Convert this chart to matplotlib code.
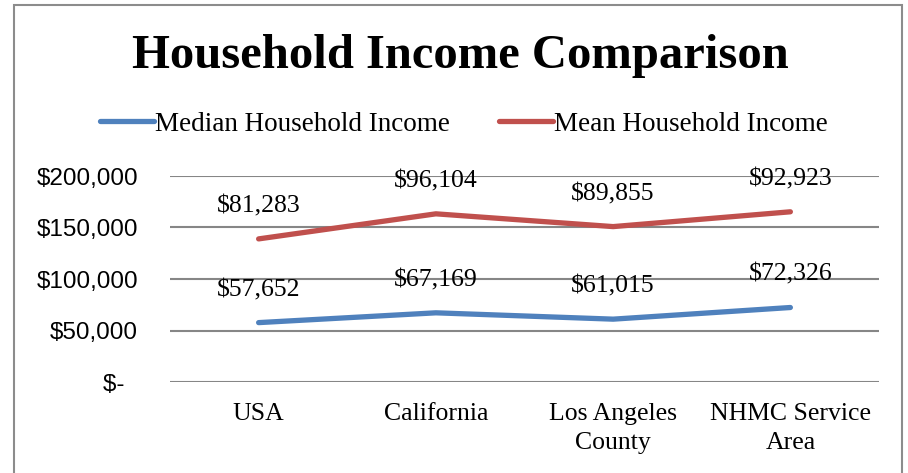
import matplotlib
matplotlib.use("Agg")
import matplotlib.pyplot as plt
from matplotlib.patches import Rectangle
import numpy as np

categories = ["USA", "California", "Los Angeles\nCounty", "NHMC Service\nArea"]
median_income = [57652, 67169, 61015, 72326]
mean_income = [81283, 96104, 89855, 92923]
y_ticks = [0, 50000, 100000, 150000, 200000]
y_tick_labels = ["$-  ", "$50,000", "$100,000", "$150,000", "$200,000"]

serif = ["Liberation Serif", "DejaVu Serif"]
sans = ["Liberation Sans", "DejaVu Sans"]

fig = plt.figure(figsize=(9.08, 4.73), dpi=100)
fig.patch.set_facecolor("white")

# outer chart border
fig.patches.append(Rectangle((14/908, -0.02), (902-14)/908, 1 - 5/473 + 0.02,
                             transform=fig.transFigure, fill=False,
                             edgecolor="#8c8c8c", linewidth=1.5))

ax = fig.add_axes([170/908, 1 - 382/473, (879-170)/908, (382-176)/473])
x = np.arange(len(categories))
stacked_mean = np.array(median_income) + np.array(mean_income)

blue = "#4F81BD"
red = "#C0504D"
l1, = ax.plot(x, median_income, color=blue, lw=3.8, solid_capstyle="round",
              solid_joinstyle="round", label="Median Household Income", zorder=3)
l2, = ax.plot(x, stacked_mean, color=red, lw=3.8, solid_capstyle="round",
              solid_joinstyle="round", label="Mean Household Income", zorder=3)

for xi, yv, v in zip(x, median_income, median_income):
    ax.annotate(f"${v:,}", (xi, yv), xytext=(0, 23.5), textcoords="offset points",
                ha="center", va="center", fontsize=18.5, family=serif, zorder=4)
for xi, yv, v in zip(x, stacked_mean, mean_income):
    ax.annotate(f"${v:,}", (xi, yv), xytext=(0, 23.5), textcoords="offset points",
                ha="center", va="center", fontsize=18.5, family=serif, zorder=4)

ax.set_xlim(-0.5, len(categories) - 0.5)
ax.set_ylim(0, 200000)
ax.set_yticks(y_ticks)
ax.set_yticklabels(y_tick_labels, fontsize=17.5, family=sans)
ax.set_xticks(x)
ax.set_xticklabels(categories, fontsize=18.5, family=serif, linespacing=1.4)
ax.tick_params(axis="both", length=0)
ax.tick_params(axis="y", pad=23)
ax.tick_params(axis="x", pad=15)
for s in ax.spines.values():
    s.set_visible(False)
ax.grid(axis="y", color="#868686", lw=1.5, zorder=0)
ax.set_axisbelow(True)

fig.text(460/908, 1 - 56/473, "Household Income Comparison", ha="center", va="center",
         fontsize=35, fontweight="bold", family=serif)

fig.legend(handles=[l1, l2], loc="center", bbox_to_anchor=(464/908, 1 - 124/473),
           ncol=2, frameon=False, prop={"family": serif, "size": 19.5},
           handlelength=2.0, handletextpad=0.05, columnspacing=1.8)

fig.savefig("out.png", dpi=100, facecolor="white")
